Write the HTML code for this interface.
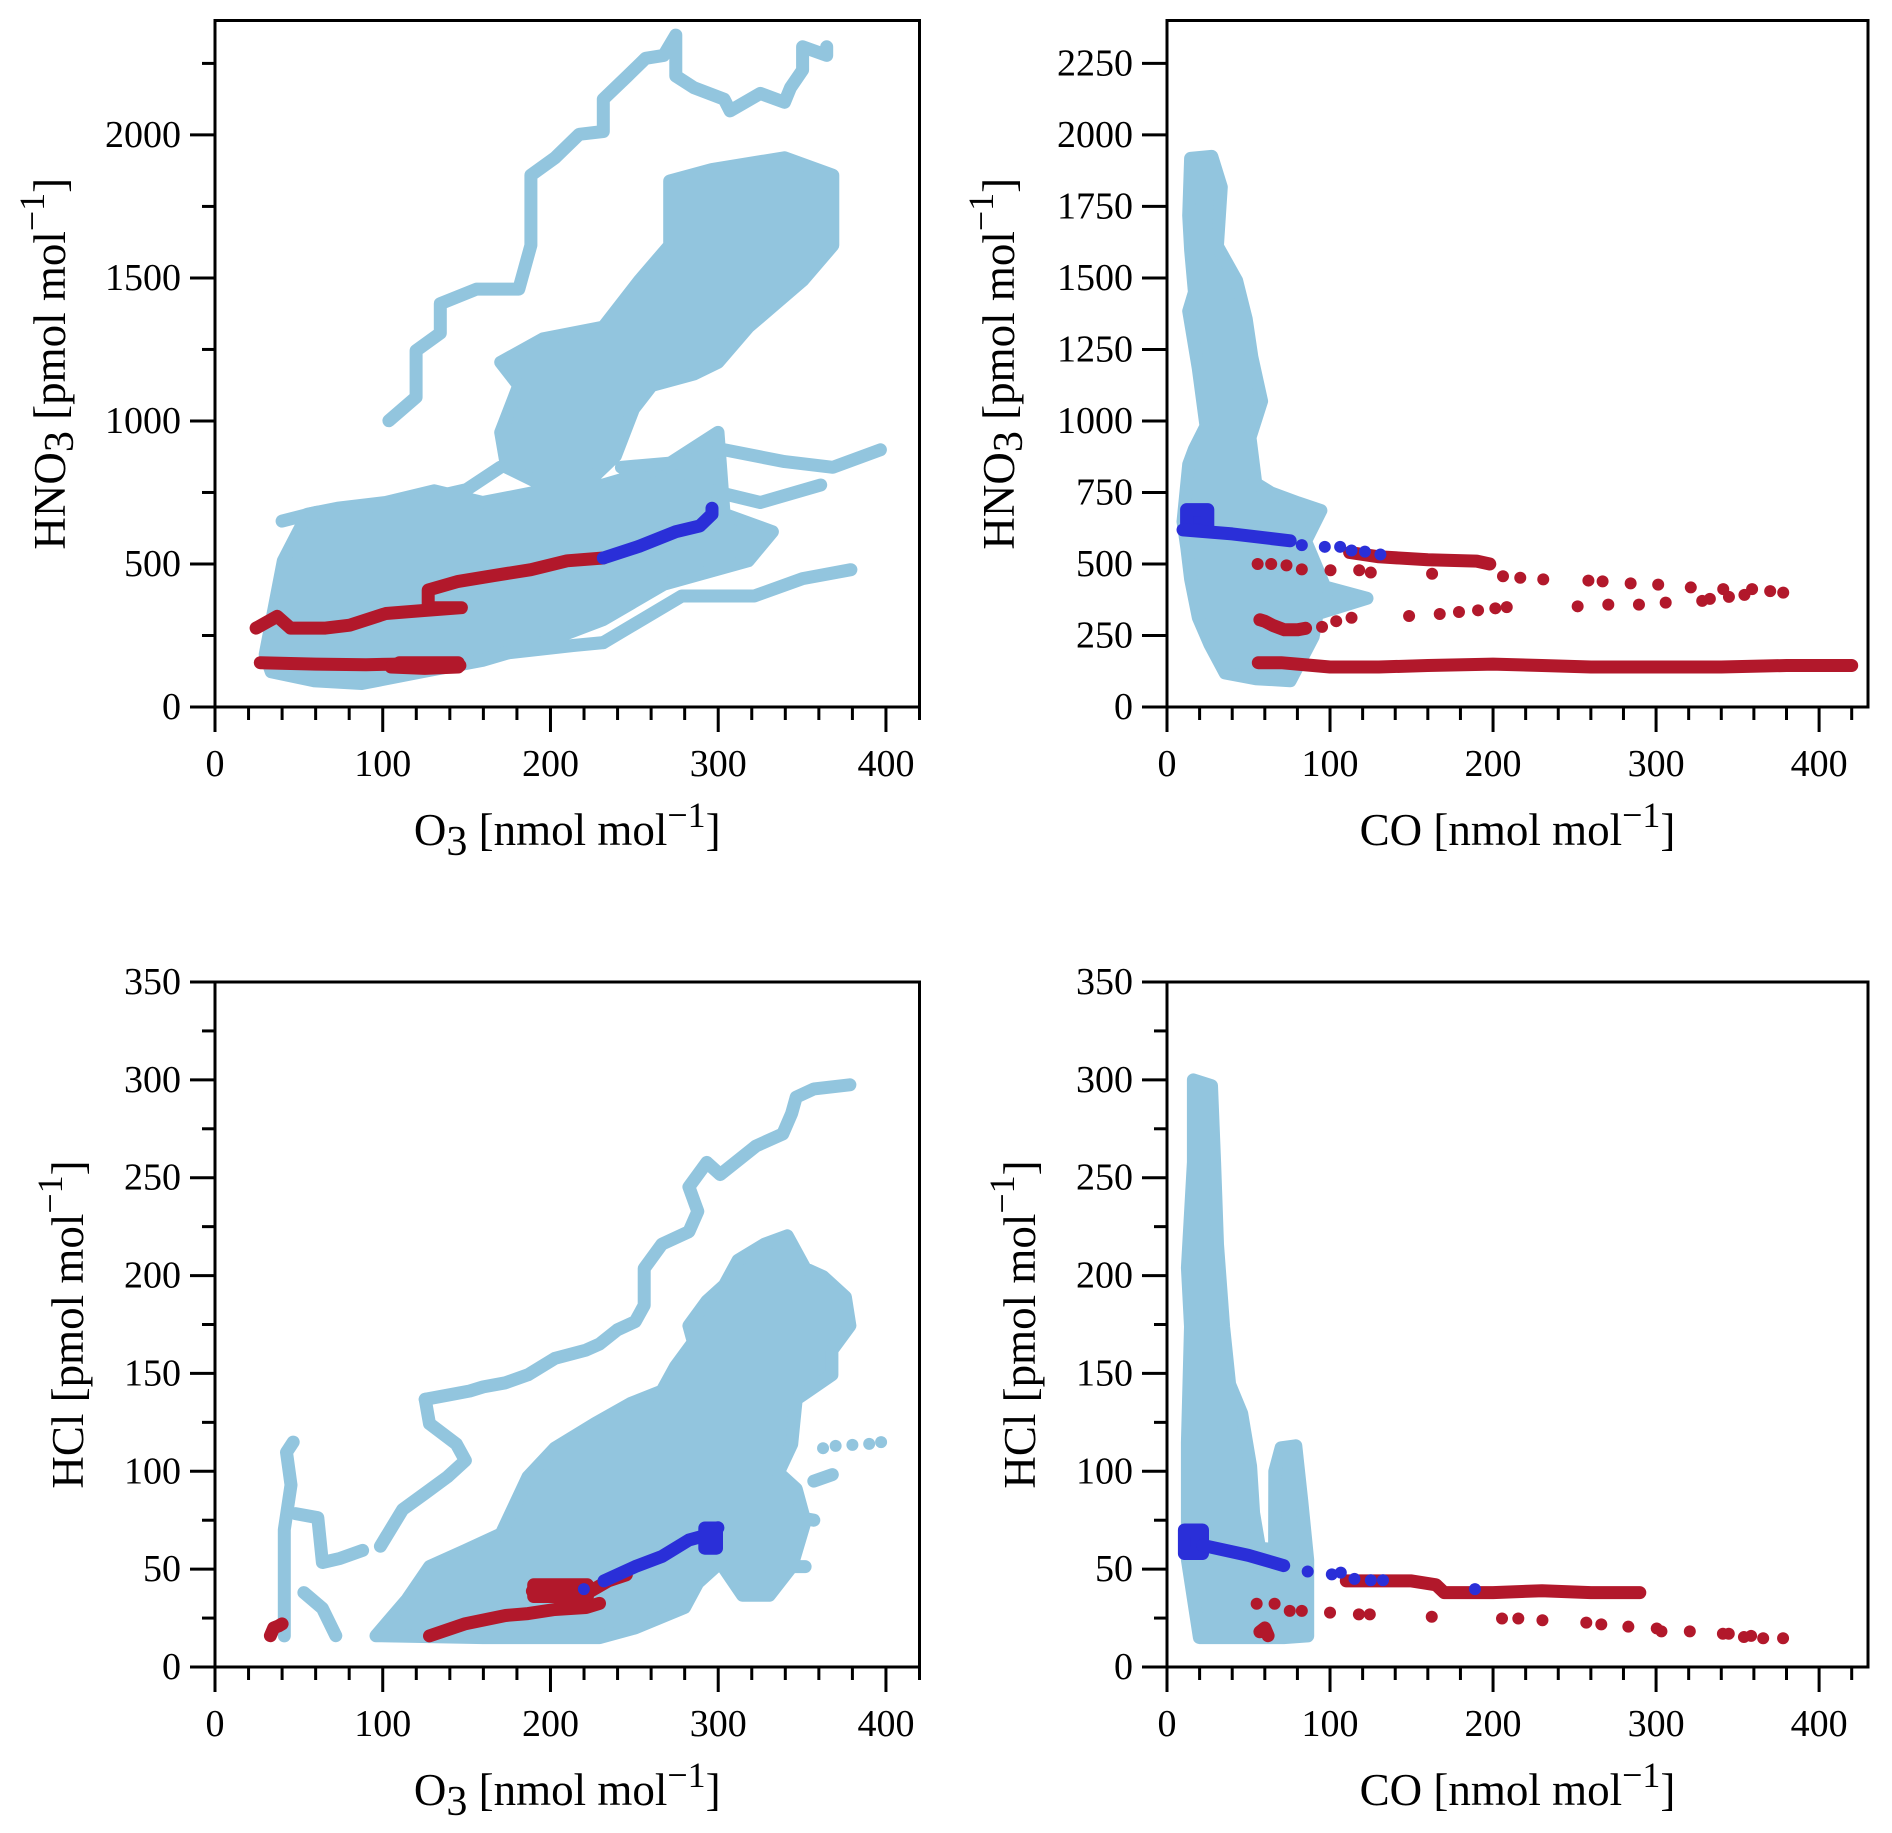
<!DOCTYPE html>
<html><head><meta charset="utf-8"><title>HNO3 and HCl vs O3 and CO scatter plots</title>
<style>html,body{margin:0;padding:0;background:#fff;}svg{display:block;}text{font-family:"Liberation Serif",serif;fill:#000;}</style>
</head><body>
<svg id="fig" xmlns="http://www.w3.org/2000/svg" width="1892" height="1833" viewBox="0 0 1892 1833"></svg>
<script>
// ---------- data (top-level arrays) ----------
// Top-left: O3 vs HNO3
const tlBlueTraceUpper = [[103.7,1001],[119.9,1083],[119.9,1246],[134.3,1307],[134.3,1410],[155.9,1461],[181.1,1461],[188.3,1614],[188.3,1859],[202.7,1920],[217.1,2002],[231.5,2012],[231.5,2125],[245.9,2206],[256.7,2268],[267.5,2278],[274.7,2349],[274.7,2206],[285.5,2165],[303.5,2125],[307.1,2084],[325.1,2145],[339.5,2114],[343.1,2165],[350.3,2227],[350.3,2308],[364.7,2278],[364.7,2308]];
const tlCloudUpper = [[170.3,1205],[195.5,1287],[231.5,1328],[253.1,1491],[271.1,1614],[271.1,1839],[296.3,1879],[339.5,1920],[368.3,1859],[368.3,1614],[350.3,1491],[317.9,1328],[299.9,1205],[285.5,1164],[260.3,1124],[249.5,1042],[238.7,878],[224.3,797],[195.5,776],[173.9,838],[170.3,960],[181.1,1124]];
const tlCloudLower = [[29.9,184],[40.7,511],[55.1,674],[73.1,695],[101.9,715],[130.7,756],[159.5,715],[195.5,756],[231.5,776],[267.5,838],[299.9,960],[303.5,674],[332.3,613],[317.9,511],[267.5,429],[231.5,306],[195.5,225],[159.5,163],[123.5,123],[87.5,82],[58.7,92],[33.5,123]];
const tlBlueStreakA = [[242.3,838],[281.9,858],[303.5,899],[339.5,858],[368.3,838],[396.7,899]];
const tlBlueStreakB = [[231.5,225],[278.3,388],[321.5,388],[350.3,449],[379.1,480]];
const tlBlueStreakC = [[166.7,184],[213.5,215],[231.5,225]];
const tlBlueStreakD = [[281.9,776],[325.1,715],[361.1,776]];
const tlBlueStreakE = [[40,650],[60,680],[90,700],[120,720],[150,760],[170,838]];
const tlRedLow = [[27,155],[60,150],[90,148],[110,150],[130,145],[146,145]];
const tlRedLowBlob = [[105,140],[125,135],[145,140],[145,155],[110,155]];
const tlRedMid = [[24.5,276],[37.1,317],[45,276],[65.9,276],[80.3,286],[101.9,327],[123.5,337],[146.9,347],[127.1,347],[127.1,409],[145,439],[166.7,460],[188.3,480],[209.9,511],[231.5,521]];
const tlBlue = [[231.5,521],[253,562],[274.7,613],[289,633],[296.3,674],[296.3,695]];
// Top-right: CO vs HNO3
const trCloud = [[14.5,1918],[27.5,1925],[33.3,1818],[30.9,1611],[42.7,1491],[48.6,1357],[52.1,1223],[58.0,1069],[50.9,942],[54.5,781],[63.9,748],[80.3,714],[94.4,687],[85.0,580],[96.8,420],[122.7,380],[92.1,326],[89.7,246],[75.6,92],[54.5,99],[35.7,119],[26.3,219],[19.2,313],[14.5,447],[12.2,554],[9.8,648],[13.3,848],[16.8,902],[23.9,982],[19.2,1183],[13.3,1384],[16.8,1450],[14.5,1598],[13.3,1718]];
const trRedBottom = [[56,155],[70,155],[80,150],[100,140],[130,140],[160,145],[200,150],[230,145],[260,140],[300,140],[340,140],[380,145],[420,145]];
const trRedUpperLine = [[112,540],[130,525],[160,515],[190,510],[198,500]];
const trRedUpperDots = [[55.6,500],[63.9,500],[73.3,495],[82.7,481],[100.3,478],[117.9,478],[125,470],[162.6,466],[206.1,457],[216.7,452],[230.8,446],[258.5,442],[267.2,439],[284.4,432],[301.3,428],[321.3,418],[328.3,371],[333,378],[341.2,412],[344.7,385],[354.2,392],[358.9,412],[370,405],[378,400]];
const trRedMidBlob = [[57,305],[60,300],[65,285],[72,270],[80,270],[85,275]];
const trRedMidDots = [[95.1,280],[103.8,300],[113.2,312],[148.5,318],[167.3,325],[179.1,332],[190.8,338],[201.4,345],[208.4,349],[251.9,352],[270.7,358],[289.5,358],[305.9,365]];
const trBlueBlob = [[12,620],[25,620],[25,690],[12,690]];
const trBlueLine = [[9.8,619],[40,605],[75.6,581]];
const trBlueDots = [[82.7,566],[96.8,560],[106.2,560],[113.2,547],[121.4,543],[130.9,533]];
// Bottom-left: O3 vs HCl
const blCloud = [[96,16],[114.6,34.6],[127.9,51.3],[149.3,59.6],[170.6,68],[186.6,97.2],[202.6,111.8],[226.5,124.3],[247.9,134.7],[266.5,141],[274.5,153.5],[285.2,166],[282.5,174.4],[293.2,186.9],[303.8,195.2],[311.8,207.8],[327.8,216.1],[341.2,220.3],[351.8,203.6],[362.5,199.4],[375.8,189],[378.5,174.4],[367.8,161.9],[367.8,149.3],[346.5,136.8],[343.8,113.9],[335.8,99.3],[346.5,91],[351.8,74.3],[343.8,51.3],[330.5,36.7],[314.5,36.7],[301.2,53.4],[287.8,43],[279.9,30.4],[250.5,20],[229.2,15],[159.9,15]];
const blBlueStreakDiag = [[125.3,136.8],[138.6,138.9],[151.9,141],[159.9,143.1],[173.2,145.2],[186.6,149.3],[202.6,157.7],[221.2,161.9],[229.2,165],[239.9,172.3],[250.5,176.5],[255.9,184.8],[255.9,203.6],[266.5,216.1],[282.5,222.4],[287.8,232.8],[282.5,245.3],[293.2,257.8],[301.2,251.6],[322.5,266.2],[338.5,272.4],[343.8,282.9],[346.5,291.2],[357.1,295.4],[378.5,297.5]];
const blBlueStreak2 = [[98.6,61.7],[111.9,80.5],[125.3,88.8],[138.6,97.2],[149.3,105.5],[143.9,113.9],[127.9,124.3],[125.3,136.8]];
const blBlueLeftVert = [[46.6,114.9],[42.6,109.7],[45.3,93],[41.3,70.1],[41.3,15.9]];
const blBlueLeftHook = [[48,78.4],[61.3,76.3],[64,53.4],[74.6,55.5],[88,59.6]];
const blBlueLeftSmall = [[53,38],[64,30],[72,16]];
const blBlueRightA = [[362.5,111.8],[370,113],[380,113.5],[390,114],[397.1,114.9]];
const blBlueRightB = [[357,95],[368,98.3]];
const blBlueRightC = [[341,77.4],[357,75]];
const blBlueRightD = [[330,51.3],[351.8,51.3]];
const blRedLeft = [[33,16],[35,20],[38,21],[40,22]];
const blRedLow = [[127.9,15.9],[149.3,22.1],[173.2,26.3],[186.6,27.3],[202.6,29.4],[221.2,30.4],[229.2,32.5]];
const blRedUpper = [[189.2,38.8],[223.9,38.8],[234.5,44],[245.2,47.1]];
const blRedUpperBlob = [[190,36],[222,36],[222,42],[190,42]];
const blBlue = [[231.9,44],[250.5,51.3],[266.5,56.5],[282.5,64.9],[295.8,68],[299.8,71.2]];
const blBlueBlob = [[292,60.7],[299,60.7],[299,71],[292,71]];
const blBlueDot = [[219.9,39.8]];
// Bottom-right: CO vs HCl
const brCloud = [[16.2,300],[27.3,297],[29.2,258],[31,216],[34.7,174],[38.4,144.5],[45.8,129.5],[51.3,102.6],[53.1,78.7],[56.8,60.7],[66,60],[66.1,100],[70,112],[79,113],[82.7,84.7],[86.3,54.7],[86.3,15.9],[71.6,15],[19.9,15],[12.5,54.7],[12.5,114.6],[14.4,174],[12.5,204],[16.2,258]];
const brRedLine = [[110,44],[130,44],[150,44],[165,42],[170,38],[200,38],[230,39],[260,38],[290,38]];
const brRedDots = [[55,32.3],[66,32.3],[75.3,28.7],[82.7,28.7],[100,27.8],[117.7,26.9],[124.4,26.9],[162.4,25.7],[205.5,24.8],[215.5,24.8],[230.3,23.9],[257.2,22.7],[266.4,21.8],[283,20.6],[300.4,19.7],[303.3,18.2],[320.7,18.2],[341,17],[344.6,17],[353.9,15.3],[358.3,15.9],[365.7,14.7],[377.9,14.7]];
const brRedBlob = [[57,18],[60,20],[62,16]];
const brBlueBlob = [[10.7,58],[21.8,58],[21.8,70],[10.7,70]];
const brBlueLine = [[21.8,62.2],[50,57],[71.6,51.8]];
const brBlueDots = [[86.3,48.8],[101.1,47.3],[106.6,48.2],[115,45],[125,44.3],[132.5,44.3],[188.9,39.8]];
// tick labels
const tlYTicks = [0,500,1000,1500,2000];
const trYTicks = [0,250,500,750,1000,1250,1500,1750,2000,2250];
const bYTicks = [0,50,100,150,200,250,300,350];
const xTicks = [0,100,200,300,400];

// ---------- drawing ----------
const NS = 'http://www.w3.org/2000/svg';
const svg = document.getElementById('fig');
const LB = '#92c5de', RED = '#b2182b', BLU = '#2a2fd8';
function mk(tag, attrs, parent){ const e=document.createElementNS(NS,tag); for(const k in attrs) e.setAttribute(k,attrs[k]); (parent||svg).appendChild(e); return e; }

const panels = [
 {key:'tl', l:215, r:919.5, t:20.5, b:707, xmax:420, ymax:2400, yTicks:tlYTicks, yMinor:250, xlab:'O', xsub:'3', ylab:'HNO', ysub:'3', ylx:50},
 {key:'tr', l:1167, r:1868, t:20.5, b:707, xmax:430, ymax:2400, yTicks:trYTicks, yMinor:250, xlab:'CO', xsub:'', ylab:'HNO', ysub:'3', ylx:999},
 {key:'bl', l:215, r:919.5, t:982, b:1667, xmax:420, ymax:350, yTicks:bYTicks, yMinor:25, xlab:'O', xsub:'3', ylab:'HCl', ysub:'', ylx:68},
 {key:'br', l:1167, r:1868, t:982, b:1667, xmax:430, ymax:350, yTicks:bYTicks, yMinor:25, xlab:'CO', xsub:'', ylab:'HCl', ysub:'', ylx:1020}
];

const series = {
 tl: [
  ['poly',tlCloudUpper,LB,'hno3-o3-cloud-upper'],['poly',tlCloudLower,LB,'hno3-o3-cloud-lower'],
  ['line',tlBlueTraceUpper,LB,'hno3-o3-trace-upper'],['line',tlBlueStreakA,LB,'hno3-o3-streak-a'],['line',tlBlueStreakB,LB,'hno3-o3-streak-b'],['line',tlBlueStreakC,LB,'hno3-o3-streak-c'],['line',tlBlueStreakD,LB,'hno3-o3-streak-d'],['line',tlBlueStreakE,LB,'hno3-o3-streak-e'],
  ['line',tlRedLow,RED,'hno3-o3-red-low'],['poly',tlRedLowBlob,RED,'hno3-o3-red-blob'],['dots',tlRedMid,RED,'hno3-o3-red-mid'],['line',tlRedMid,RED,'hno3-o3-red-mid-line'],
  ['line',tlBlue,BLU,'hno3-o3-blue']
 ],
 tr: [
  ['poly',trCloud,LB,'hno3-co-cloud'],
  ['line',trRedBottom,RED,'hno3-co-red-bottom'],['line',trRedUpperLine,RED,'hno3-co-red-upper'],['dots',trRedUpperDots,RED,'hno3-co-red-dots'],['line',trRedMidBlob,RED,'hno3-co-red-blob'],['dots',trRedMidDots,RED,'hno3-co-red-mid-dots'],
  ['poly',trBlueBlob,BLU,'hno3-co-blue-blob'],['line',trBlueLine,BLU,'hno3-co-blue-line'],['dots',trBlueDots,BLU,'hno3-co-blue-dots']
 ],
 bl: [
  ['poly',blCloud,LB,'hcl-o3-cloud'],['line',blBlueStreakDiag,LB,'hcl-o3-streak-diag'],['line',blBlueStreak2,LB,'hcl-o3-streak-2'],['line',blBlueLeftVert,LB,'hcl-o3-left-vertical'],['line',blBlueLeftHook,LB,'hcl-o3-left-hook'],['line',blBlueLeftSmall,LB,'hcl-o3-left-small'],['dots',blBlueRightA,LB,'hcl-o3-right-a'],['line',blBlueRightB,LB,'hcl-o3-right-b'],['line',blBlueRightC,LB,'hcl-o3-right-c'],['line',blBlueRightD,LB,'hcl-o3-right-d'],
  ['line',blRedLeft,RED,'hcl-o3-red-left'],['dots',blRedLow,RED,'hcl-o3-red-low'],['line',blRedLow,RED,'hcl-o3-red-low-line'],['line',blRedUpper,RED,'hcl-o3-red-upper'],['poly',blRedUpperBlob,RED,'hcl-o3-red-blob'],
  ['line',blBlue,BLU,'hcl-o3-blue'],['poly',blBlueBlob,BLU,'hcl-o3-blue-blob'],['dots',blBlueDot,BLU,'hcl-o3-blue-dot']
 ],
 br: [
  ['poly',brCloud,LB,'hcl-co-cloud'],
  ['line',brRedLine,RED,'hcl-co-red-line'],['dots',brRedDots,RED,'hcl-co-red-dots'],['line',brRedBlob,RED,'hcl-co-red-blob'],
  ['poly',brBlueBlob,BLU,'hcl-co-blue-blob'],['line',brBlueLine,BLU,'hcl-co-blue-line'],['dots',brBlueDots,BLU,'hcl-co-blue-dots']
 ]
};

panels.forEach(p=>{
  const g = mk('g',{});
  
  
  const sx = v => p.l + v/p.xmax*(p.r-p.l);
  const sy = v => p.b - v/p.ymax*(p.b-p.t);
  const clip = mk('clipPath',{id:'clip-'+p.key},g);
  mk('rect',{x:p.l,y:p.t,width:p.r-p.l,height:p.b-p.t},clip);
  const marks = mk('g',{'clip-path':'url(#clip-'+p.key+')'},g);
  
  
  series[p.key].forEach(s=>{
    const [mode, arr, col, name] = s;
    const pts = arr.map(d=>sx(d[0]).toFixed(1)+','+sy(d[1]).toFixed(1)).join(' ');
    let el;
    if(mode==='poly'){
      el = mk('polygon',{points:pts,fill:col,stroke:col,'stroke-width':13,'stroke-linejoin':'round'},marks);
    } else if(mode==='line'){
      el = mk('polyline',{points:pts,fill:'none',stroke:col,'stroke-width':13,'stroke-linejoin':'round','stroke-linecap':'round'},marks);
    } else {
      el = mk('g',{fill:col},marks);
      arr.forEach(d=>{ const c = mk('circle',{cx:sx(d[0]),cy:sy(d[1]),r:6},el);
        
         });
    }
    
    
  });
  // frame
  const fr = mk('rect',{x:p.l,y:p.t,width:p.r-p.l,height:p.b-p.t,fill:'none',stroke:'#000','stroke-width':3},g);
  
  
  // x ticks
  for(let v=0; v<=p.xmax+0.01; v+=20){
    const x=sx(v); const major = v%100===0;
    mk('line',{x1:x,x2:x,y1:p.b,y2:p.b+(major?25:13),stroke:'#000','stroke-width':3},g);
  }
  xTicks.forEach(v=>{
    const t = mk('text',{x:sx(v),y:p.b+57,'font-size':38,'text-anchor':'middle','dominant-baseline':'central'},g);
    t.textContent = v;
    
    
  });
  // y ticks
  for(let v=0; v<=p.ymax+0.01; v+=p.yMinor){
    const y=sy(v); const major = p.yTicks.indexOf(v)>=0;
    mk('line',{x1:p.l-(major?25:13),x2:p.l,y1:y,y2:y,stroke:'#000','stroke-width':3},g);
  }
  p.yTicks.forEach(v=>{
    const t = mk('text',{x:p.l-34,y:sy(v),'font-size':38,'text-anchor':'end','dominant-baseline':'central'},g);
    t.textContent = v;
    
    
  });
  // x label
  const xl = mk('text',{x:(p.l+p.r)/2,y:p.b+138,'font-size':45,'text-anchor':'middle'},g);
  
  
  xl.innerHTML = p.xlab + (p.xsub?'<tspan dy="10" font-size="42">'+p.xsub+'</tspan><tspan dy="-10"> [nmol mol</tspan>':' [nmol mol') + '<tspan dy="-18" font-size="36">−1</tspan><tspan dy="18">]</tspan>';
  // y label
  const cy=(p.t+p.b)/2;
  const yl = mk('text',{x:p.ylx,y:cy,'font-size':45,'text-anchor':'middle','dominant-baseline':'central',transform:'rotate(-90 '+p.ylx+' '+cy+')'},g);
  
  
  yl.innerHTML = p.ylab + (p.ysub?'<tspan dy="10" font-size="42">'+p.ysub+'</tspan><tspan dy="-10"> [pmol mol</tspan>':' [pmol mol') + '<tspan dy="-18" font-size="36">−1</tspan><tspan dy="18">]</tspan>';
});
</script>
</body></html>
